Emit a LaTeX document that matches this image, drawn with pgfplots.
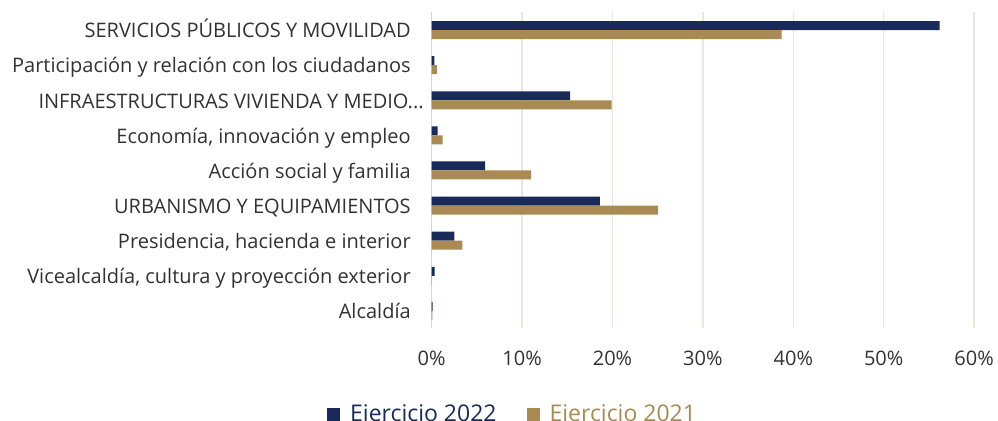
\documentclass[border=0pt]{standalone}
\usepackage{pgfplots}
\pgfplotsset{compat=1.18}
\usepackage{fontspec}
\setmainfont{Open Sans}
\definecolor{navy}{RGB}{23,42,89}
\definecolor{gold}{RGB}{168,138,82}
\definecolor{gridc}{RGB}{236,231,221}
\definecolor{zeroc}{RGB}{215,215,215}
\definecolor{txt}{RGB}{50,50,50}
\begin{document}
\begin{tikzpicture}
\path[use as bounding box] (0,0) rectangle (499pt,210.5pt);
\begin{axis}[
  at={(215.85pt,46.25pt)}, anchor=south west,
  scale only axis, width=271.2pt, height=158pt,
  xmin=0, xmax=60, ymin=-0.5, ymax=8.5,
  axis line style={draw=none},
  xbar, bar width=4.5pt,
  xtick={10,20,30,40,50,60},
  xticklabels={10\%,20\%,30\%,40\%,50\%,60\%},
  extra x ticks={0}, extra x tick labels={0\%},
  extra x tick style={grid style={zeroc, line width=0.75pt}},
  ytick={0,1,2,3,4,5,6,7,8},
  yticklabels={{Alcaldía},{Vicealcaldía, cultura y proyección exterior},{Presidencia, hacienda e interior},{URBANISMO Y EQUIPAMIENTOS},{Acción social y familia},{Economía, innovación y empleo},{INFRAESTRUCTURAS VIVIENDA Y MEDIO.{}.{}.\kern-6.5pt},{Participación y relación con los ciudadanos},{SERVICIOS PÚBLICOS Y MOVILIDAD}},
  major tick length=0pt,
  xmajorgrids, grid style={gridc, line width=0.75pt},
  tick label style={font=\fontsize{10}{12}\selectfont, text=txt, inner sep=0pt},
  yticklabel style={anchor=base east, xshift=-10.3pt, yshift=-3.9pt},
  xticklabel style={anchor=base, yshift=-18.75pt},
  legend style={draw=none, fill=none, font=\fontsize{11.5}{13}\selectfont,
    at={(0.151,-0.272)}, anchor=center, legend columns=2,
    /tikz/every even column/.append style={column sep=13pt},
    /tikz/every odd column/.append style={column sep=3pt},
    inner sep=0pt},
  legend image code/.code={\fill[#1] (0pt,-3.25pt) rectangle (6.5pt,3.25pt);},
  clip=false,
]
\addplot[draw=none, fill=navy, bar shift=2.25pt] coordinates {
(0.1,0) (0.33,1) (2.5,2) (18.6,3) (5.9,4) (0.65,5) (15.3,6) (0.3,7) (56.2,8)};
\addlegendentry{\textcolor{navy}{Ejercicio 2022}}
\addplot[draw=none, fill=gold, bar shift=-2.25pt] coordinates {
(0.07,0) (0.03,1) (3.4,2) (25.05,3) (11.0,4) (1.2,5) (19.9,6) (0.57,7) (38.7,8)};
\addlegendentry{\textcolor{gold}{Ejercicio 2021}}
\end{axis}
\end{tikzpicture}
\end{document}
